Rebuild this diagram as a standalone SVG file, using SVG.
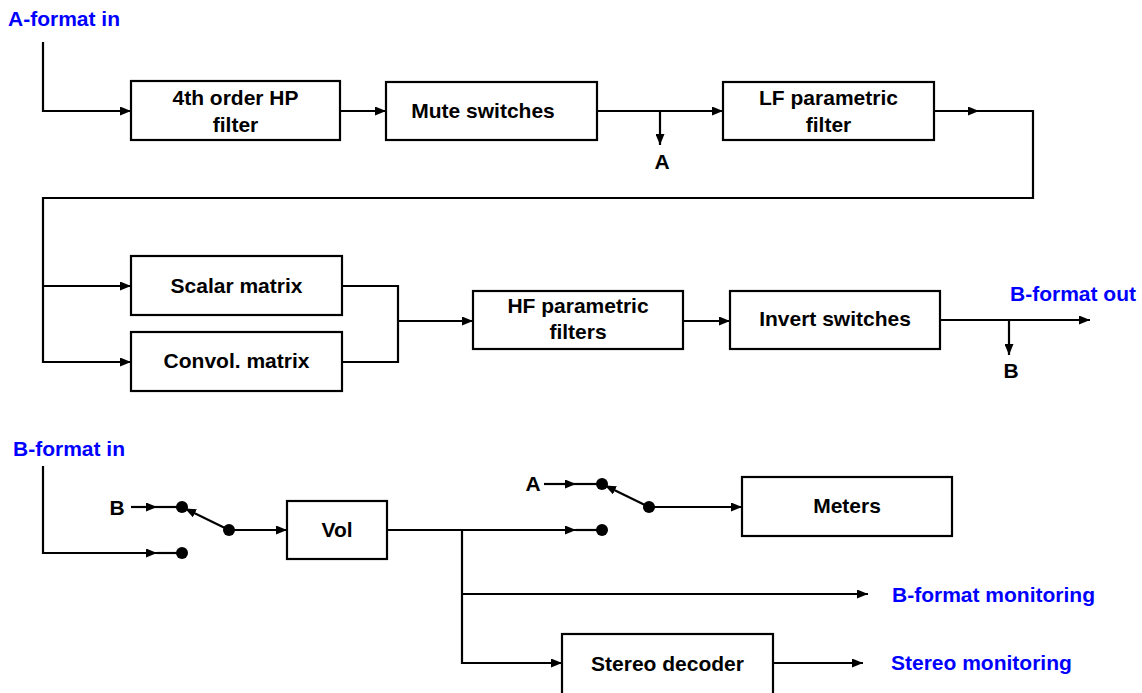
<svg xmlns="http://www.w3.org/2000/svg" width="1142" height="693" viewBox="0 0 1142 693">
<style>
text{font-family:"Liberation Sans",Arial,sans-serif;font-weight:bold;font-size:21px;fill:#000}
.c{text-anchor:middle}
.blue{fill:#0000ff}
.box{fill:#fff;stroke:#000;stroke-width:2.2}
.ln{fill:none;stroke:#000;stroke-width:2.2}
.ar{marker-end:url(#ah)}
.dot{fill:#000}
</style>
<defs>
<marker id="ah" markerUnits="userSpaceOnUse" markerWidth="11" markerHeight="9" refX="11" refY="4.5" orient="auto">
<path d="M0,0 L11,4.5 L0,9 z" fill="#000"/>
</marker>
</defs>
<rect width="1142" height="693" fill="#fff"/>
<g id="connectors">
<path class="ln ar" d="M43,42 V111 H131"/>
<path class="ln ar" d="M340,111 H386"/>
<path class="ln ar" d="M597,111 H723"/>
<path class="ln ar" d="M660,111 V145"/>
<path class="ln ar" d="M934,111 H979"/>
<path class="ln ar" d="M979,111 H1033 V198 H43 V362 H131"/>
<path class="ln ar" d="M43,286 H131"/>
<path class="ln" d="M342,286 H398 V362 H342"/>
<path class="ln ar" d="M398,321 H473"/>
<path class="ln ar" d="M683,321 H730"/>
<path class="ln ar" d="M940,320 H1090"/>
<path class="ln ar" d="M1009,320 V355"/>
<path class="ln ar" d="M43,466 V553 H157"/>
<path class="ln" d="M157,553 H182"/>
<path class="ln ar" d="M131,507 H157"/>
<path class="ln" d="M157,507 H182"/>
<path class="ln ar" d="M229,530 L185,508.5"/>
<path class="ln ar" d="M229,530 H287"/>
<path class="ln ar" d="M387,530 H576"/>
<path class="ln" d="M576,530 H602"/>
<path class="ln ar" d="M544,484 H576"/>
<path class="ln" d="M576,484 H602"/>
<path class="ln ar" d="M649,507 L605,485.5"/>
<path class="ln ar" d="M649,507 H742"/>
<path class="ln ar" d="M462,530 V663 H562"/>
<path class="ln ar" d="M462,594 H868"/>
<path class="ln ar" d="M773,663 H863"/>
<circle class="dot" cx="182" cy="507" r="6"/>
<circle class="dot" cx="182" cy="553" r="6"/>
<circle class="dot" cx="229" cy="530" r="6"/>
<circle class="dot" cx="602" cy="484" r="6"/>
<circle class="dot" cx="602" cy="530" r="6"/>
<circle class="dot" cx="649" cy="507" r="6"/>
</g>
<g id="label-aformat-in"><text class="blue" x="8" y="26">A-format in</text></g>
<g id="label-bformat-out"><text class="blue" x="1010" y="301">B-format out</text></g>
<g id="label-bformat-in"><text class="blue" x="13" y="456">B-format in</text></g>
<g id="label-bformat-mon"><text class="blue" x="892" y="602">B-format monitoring</text></g>
<g id="label-stereo-mon"><text class="blue" x="891" y="670">Stereo monitoring</text></g>
<g id="label-A-out"><text class="c" x="662" y="169">A</text></g>
<g id="label-B-out"><text class="c" x="1011" y="378">B</text></g>
<g id="label-B-in"><text class="c" x="117" y="515">B</text></g>
<g id="label-A-in"><text class="c" x="533" y="491">A</text></g>
<g id="hp-filter">
<rect class="box" x="131" y="81" width="209" height="59"/>
<text class="c" x="235.5" y="105">4th order HP</text>
<text class="c" x="235.5" y="132">filter</text>
</g>
<g id="mute-switches">
<rect class="box" x="386" y="82" width="211" height="58"/>
<text class="c" x="483" y="118">Mute switches</text>
</g>
<g id="lf-filter">
<rect class="box" x="723" y="82" width="211" height="58"/>
<text class="c" x="828.5" y="105">LF parametric</text>
<text class="c" x="828.5" y="132">filter</text>
</g>
<g id="scalar-matrix">
<rect class="box" x="131" y="256" width="211" height="59"/>
<text class="c" x="236.5" y="293">Scalar matrix</text>
</g>
<g id="convol-matrix">
<rect class="box" x="131" y="332" width="211" height="59"/>
<text class="c" x="236.5" y="368">Convol. matrix</text>
</g>
<g id="hf-filters">
<rect class="box" x="473" y="291" width="210" height="58"/>
<text class="c" x="578" y="313">HF parametric</text>
<text class="c" x="578" y="339">filters</text>
</g>
<g id="invert-switches">
<rect class="box" x="730" y="291" width="210" height="58"/>
<text class="c" x="835" y="326">Invert switches</text>
</g>
<g id="vol">
<rect class="box" x="287" y="501" width="100" height="58"/>
<text class="c" x="337" y="537">Vol</text>
</g>
<g id="meters">
<rect class="box" x="742" y="477" width="210" height="59"/>
<text class="c" x="847" y="513">Meters</text>
</g>
<g id="stereo-decoder">
<rect class="box" x="562" y="634" width="211" height="62"/>
<text class="c" x="667.5" y="671">Stereo decoder</text>
</g>
</svg>
